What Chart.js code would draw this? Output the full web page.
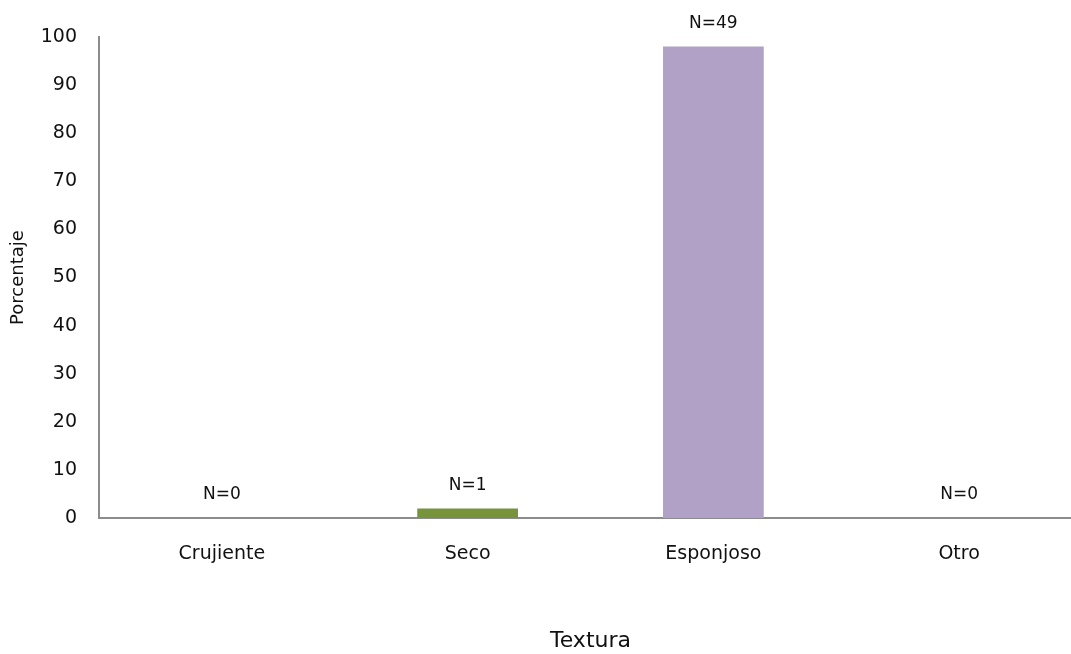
<!DOCTYPE html>
<html>
<head>
<meta charset="utf-8">
<script src="https://cdn.jsdelivr.net/npm/chart.js@4/dist/chart.umd.min.js"></script>
<style>
  html, body { margin: 0; padding: 0; background: #fff; overflow: hidden; }
  #wrap { width: 1071px; height: 654px; overflow: hidden; position: relative; }
  #box { width: 1082px; height: 654px; position: absolute; left: 0; top: 0; }
</style>
</head>
<body>
<div id="wrap"><div id="box"><canvas id="c"></canvas></div></div>
<script>
// Texture categories and percentage of responses
const categories = ['Crujiente', 'Seco', 'Esponjoso', 'Otro'];
const percentages = [0, 2, 98, 0];
const counts = ['N=0', 'N=1', 'N=49', 'N=0'];
const barColors = ['#4f81bd', '#77933c', '#b2a1c7', '#f79646'];
const yTicks = [0, 10, 20, 30, 40, 50, 60, 70, 80, 90, 100];

const FONT = "'DejaVu Sans', sans-serif";

// Writes the N= count above each bar
const countLabels = {
  id: 'countLabels',
  afterDatasetsDraw(chart) {
    const ctx = chart.ctx;
    const meta = chart.getDatasetMeta(0);
    ctx.save();
    ctx.font = '17px ' + FONT;
    ctx.fillStyle = '#111';
    ctx.textAlign = 'center';
    ctx.textBaseline = 'middle';
    meta.data.forEach((bar, i) => {
      ctx.fillText(counts[i], bar.x, bar.y - 23);
    });
    ctx.restore();
  }
};

new Chart(document.getElementById('c'), {
  type: 'bar',
  data: {
    labels: categories,
    datasets: [{
      data: percentages,
      backgroundColor: barColors,
      borderWidth: 0,
      categoryPercentage: 1,
      barPercentage: 0.41
    }]
  },
  options: {
    responsive: true,
    maintainAspectRatio: false,
    animation: false,
    layout: { padding: { top: 37, left: 0, right: 0, bottom: 0 } },
    plugins: { legend: { display: false }, tooltip: { enabled: false } },
    scales: {
      x: {
        grid: { display: false, drawTicks: false },
        border: { display: true, color: '#8c8c8c', width: 2 },
        ticks: { color: '#111', font: { family: FONT, size: 19 }, padding: 25 },
        title: { display: true, text: 'Textura', color: '#111', font: { family: FONT, size: 22 }, padding: { top: 0, bottom: 0 } },
        afterFit(scale) { scale.height = 136; }
      },
      y: {
        min: 0,
        max: 100,
        afterBuildTicks(scale) { scale.ticks = yTicks.map(v => ({ value: v })); },
        grid: { display: false, drawTicks: false },
        border: { display: true, color: '#8c8c8c', width: 2 },
        ticks: { color: '#111', font: { family: FONT, size: 19 }, padding: 22 },
        title: { display: true, text: 'Porcentaje', color: '#111', font: { family: FONT, size: 18 }, padding: { top: 8, bottom: 0 } },
        afterFit(scale) { scale.width = 99; }
      }
    }
  },
  plugins: [countLabels]
});
</script>
</body>
</html>
